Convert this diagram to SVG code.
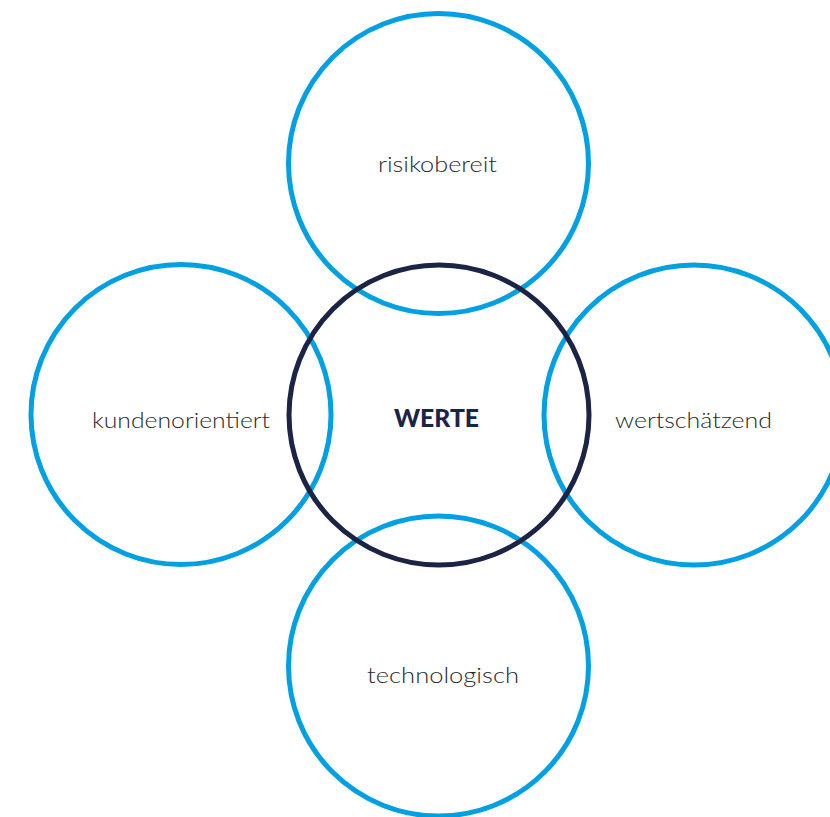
<svg xmlns="http://www.w3.org/2000/svg" width="830" height="817" viewBox="0 0 830 817">
<style>
.outer{fill:none;stroke:#00A0E3;stroke-width:5}
.core{fill:none;stroke:#1B2444;stroke-width:5}
.lbl{font-family:Lato,"Open Sans","Liberation Sans",sans-serif;font-size:21px;fill:#2a2a2a;text-anchor:middle;font-weight:300}
.main{font-family:Lato,"Open Sans","Liberation Sans",sans-serif;font-size:25px;fill:#1B2444;text-anchor:middle;font-weight:900}
</style>
<rect width="830" height="817" fill="#ffffff"/>
<g id="connectors"></g>
<g id="node-risikobereit">
<circle class="outer" cx="438.5" cy="163.5" r="150"/>
<text class="lbl" x="437.5" y="172" textLength="119" lengthAdjust="spacingAndGlyphs">risikobereit</text>
</g>
<g id="node-kundenorientiert">
<circle class="outer" cx="181" cy="414.5" r="150"/>
<text class="lbl" x="181" y="428" textLength="178" lengthAdjust="spacingAndGlyphs">kundenorientiert</text>
</g>
<g id="node-wertschaetzend">
<circle class="outer" cx="694" cy="415" r="150"/>
<text class="lbl" x="693.5" y="428" textLength="157" lengthAdjust="spacingAndGlyphs">wertschätzend</text>
</g>
<g id="node-technologisch">
<circle class="outer" cx="438.5" cy="666" r="150"/>
<text class="lbl" x="443" y="683" textLength="152" lengthAdjust="spacingAndGlyphs">technologisch</text>
</g>
<g id="node-werte">
<circle class="core" cx="439" cy="415" r="150"/>
<text class="main" x="436.5" y="427" textLength="85" lengthAdjust="spacingAndGlyphs">WERTE</text>
</g>
</svg>
